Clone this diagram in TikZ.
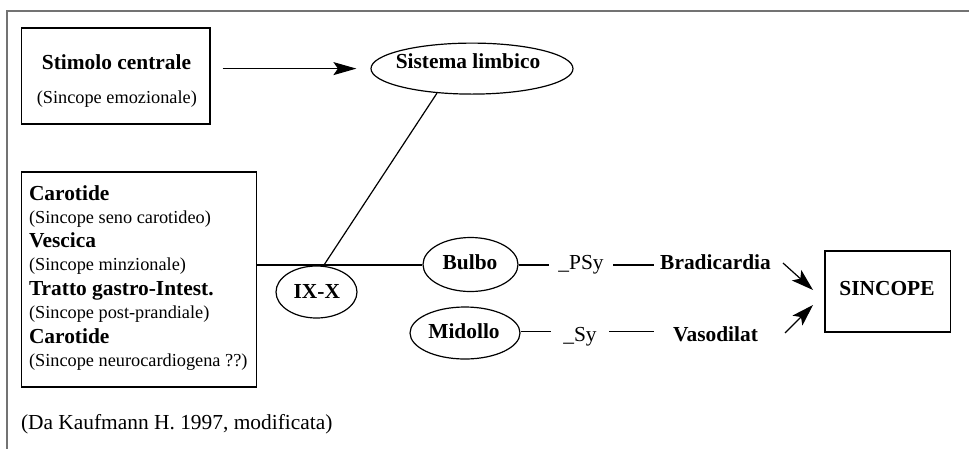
\documentclass[tikz,border=0pt]{standalone}
\usepackage{fontspec}
\setmainfont{Liberation Serif}
\usetikzlibrary{shapes.geometric,arrows.meta}
\begin{document}
\begin{tikzpicture}[x=1pt,y=-1pt,
  line width=1.2pt,
  bx/.style={draw, rectangle, inner sep=0pt},
  ell/.style={draw, ellipse, inner sep=0pt},
  bt/.style={font=\fontsize{21.4}{24}\selectfont\bfseries, inner sep=0pt, anchor=base},
  btl/.style={font=\fontsize{21.4}{24}\selectfont\bfseries, inner sep=0pt, anchor=base west},
  st/.style={font=\fontsize{18.3}{22}\selectfont, inner sep=0pt, anchor=base west},
  stc/.style={font=\fontsize{18.3}{22}\selectfont, inner sep=0pt, anchor=base},
  rt/.style={font=\fontsize{21.4}{24}\selectfont, inner ysep=0pt, anchor=base},
  arr/.style={-{Stealth[length=23pt,width=13pt,inset=4.5pt]}},
  darr/.style={-{Stealth[length=22pt,width=14pt,inset=5pt]}},
]
\useasboundingbox (0,0) rectangle (969,448);
\draw[line width=1.4pt, draw=black!55] (7,452) -- (7,11) -- (972,11);

% top left box
\node[bx, minimum width=188.4pt, minimum height=96pt] (stim) at (115.8,76) {};
\node[bt] (stimt) at (116.5,69) {Stimolo centrale};
\node[stc] (stims) at (116.8,103) {(Sincope emozionale)};

% limbic ellipse
\node[ell, minimum width=202pt, minimum height=51pt] (limb) at (472,68.6) {};
\node[bt] (limbt) at (468,68.3) {Sistema limbico};

\draw[arr, shorten <=12pt, shorten >=14pt] (stim.east |- limb.west) -- (limb.west);

% left box
\node[bx, minimum width=235pt, minimum height=215pt] (lbox) at (139,279.5) {};
\node[btl] (c1) at (28.4,200) {Carotide};
\node[st]  (c1s) at (28.4,223) {(Sincope seno carotideo)};
\node[btl] (c2) at (28.4,247) {Vescica};
\node[st]  (c2s) at (28.4,270.5) {(Sincope minzionale)};
\node[btl] (c3) at (28.4,295.5) {Tratto gastro-Intest.};
\node[st]  (c3s) at (28.4,318) {(Sincope post-prandiale)};
\node[btl] (c4) at (28.4,343) {Carotide};
\node[st]  (c4s) at (28.4,366) {(Sincope neurocardiogena ??)};

% IX-X
\node[ell, minimum width=81pt, minimum height=52pt] (ix) at (316.5,292) {};
\node[bt] (ixt) at (316.8,298) {IX-X};

% Bulbo, Midollo
\node[ell, minimum width=95pt, minimum height=54pt] (bulbo) at (470.5,264.5) {};
\node[bt] (bulbot) at (470,269) {Bulbo};
\node[ell, minimum width=110pt, minimum height=52pt] (mid) at (465,333) {};
\node[bt] (midt) at (464,338.5) {Midollo};

\coordinate (j) at (324,265);
\draw (limb.215.5) -- (j);
\draw (lbox.east |- j) -- (bulbo.west |- j);

% labels
\node[rt, inner xsep=9pt] (psy) at (581,269.5) {\_PSy};
\node[bt, inner xsep=6pt] (brad) at (715.5,269.5) {Bradicardia};
\node[rt, inner xsep=12pt] (sy) at (580,341) {\_Sy};
\node[bt, inner xsep=18pt] (vaso) at (715.5,341) {Vasodilat};

\draw (bulbo.east |- j) -- (psy.west |- j);
\draw (psy.east |- j) -- (brad.west |- j);
\draw (mid.east |- 0,331.7) -- (sy.west |- 0,331.7);
\draw (sy.east |- 0,331.7) -- (vaso.west |- 0,331.7);

% SINCOPE
\node[bx, minimum width=125.5pt, minimum height=81pt] (sinc) at (887.7,291.5) {};
\node[bt] (sinct) at (887,295.5) {SINCOPE};

\coordinate (a1s) at (783,263);
\coordinate (a1e) at (813,290);
\coordinate (a2s) at (785,333);
\coordinate (a2e) at (813,305);
\draw[darr] (a1s) -- (a1e);
\draw[darr] (a2s) -- (a2e);

% caption
\node[font=\fontsize{21.4}{24}\selectfont, inner sep=0pt, anchor=base west] (cap) at (20.4,429) {(Da Kaufmann H. 1997, modificata)};
\end{tikzpicture}
\end{document}
